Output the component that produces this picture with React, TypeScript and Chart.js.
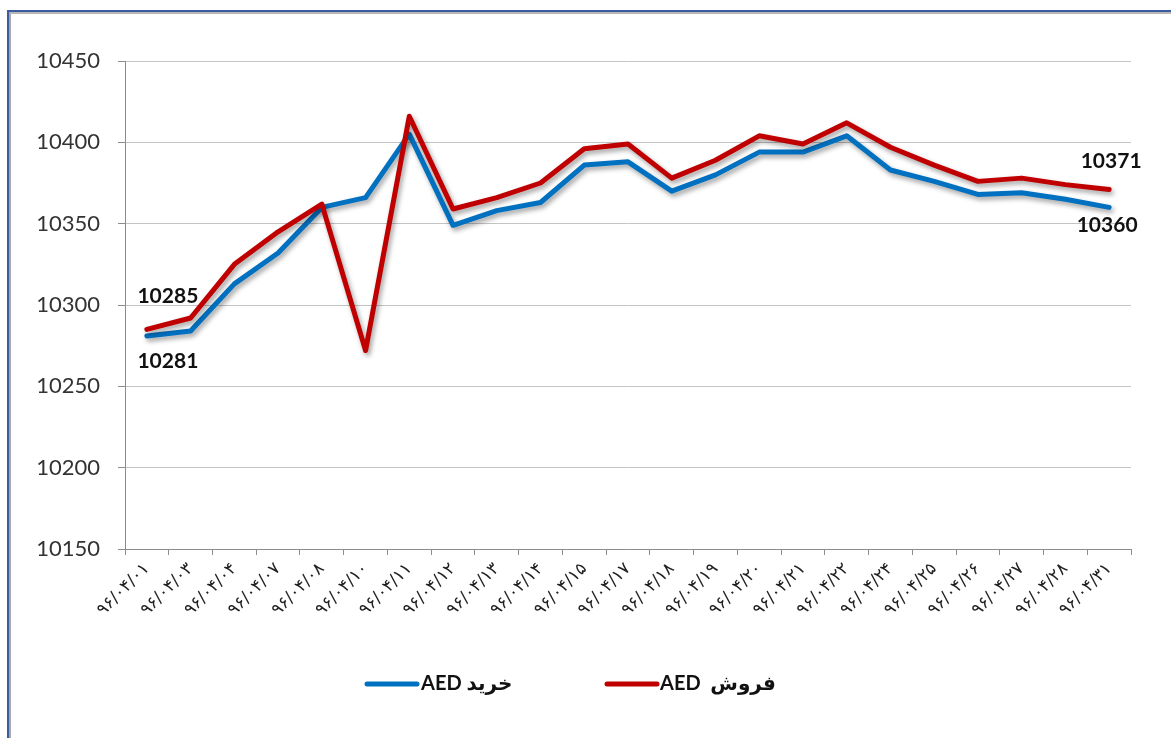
import React, { useEffect, useRef } from "react";
import { Chart, registerables } from "chart.js";

Chart.register(...registerables);

const categories = [
  "۹۶/۰۴/۰۱", "۹۶/۰۴/۰۳", "۹۶/۰۴/۰۴", "۹۶/۰۴/۰۷", "۹۶/۰۴/۰۸", "۹۶/۰۴/۱۰",
  "۹۶/۰۴/۱۱", "۹۶/۰۴/۱۲", "۹۶/۰۴/۱۳", "۹۶/۰۴/۱۴", "۹۶/۰۴/۱۵", "۹۶/۰۴/۱۷",
  "۹۶/۰۴/۱۸", "۹۶/۰۴/۱۹", "۹۶/۰۴/۲۰", "۹۶/۰۴/۲۱", "۹۶/۰۴/۲۲", "۹۶/۰۴/۲۴",
  "۹۶/۰۴/۲۵", "۹۶/۰۴/۲۶", "۹۶/۰۴/۲۷", "۹۶/۰۴/۲۸", "۹۶/۰۴/۳۱",
];

const buyValues = [
  10281, 10284, 10313, 10332, 10360, 10366, 10405, 10349, 10358, 10363, 10386, 10388,
  10370, 10380, 10394, 10394, 10404, 10383, 10376, 10368, 10369, 10365, 10360,
];

const sellValues = [
  10285, 10292, 10325, 10345, 10362, 10272, 10416, 10359, 10366, 10375, 10396, 10399,
  10378, 10389, 10404, 10399, 10412, 10397, 10386, 10376, 10378, 10374, 10371,
];

const yMin = 10150;
const yMax = 10450;
const yStep = 50;

const buyLabel = "AED خرید";
const sellLabel = "AED  فروش";

const BLUE = "#0070C0";
const RED = "#C00000";

const shadowPlugin = {
  id: "lineShadow",
  beforeDatasetDraw(chart: any) {
    const ctx = chart.ctx;
    ctx.save();
    ctx.shadowColor = "rgba(0,0,0,0.38)";
    ctx.shadowBlur = 5;
    ctx.shadowOffsetX = 2;
    ctx.shadowOffsetY = 3;
  },
  afterDatasetDraw(chart: any) {
    chart.ctx.restore();
  },
};

const labelsPlugin = {
  id: "endLabels",
  afterDraw(chart: any) {
    const ctx = chart.ctx;
    const blue = chart.getDatasetMeta(0).data;
    const red = chart.getDatasetMeta(1).data;
    const last = blue.length - 1;
    ctx.save();
    ctx.font = "bold 21px Lato, 'DejaVu Sans', sans-serif";
    ctx.fillStyle = "#111";
    ctx.textAlign = "center";
    ctx.textBaseline = "middle";
    ctx.fillText(String(sellValues[0]), red[0].x + 21, red[0].y - 33);
    ctx.fillText(String(buyValues[0]), blue[0].x + 21, blue[0].y + 25);
    ctx.fillText(String(sellValues[last]), red[last].x + 2, red[last].y - 28);
    ctx.fillText(String(buyValues[last]), blue[last].x - 2, blue[last].y + 18);

    // legend
    const ly = 684;
    ctx.lineCap = "round";
    ctx.lineWidth = 5;
    ctx.strokeStyle = BLUE;
    ctx.beginPath();
    ctx.moveTo(367, ly);
    ctx.lineTo(417, ly);
    ctx.stroke();
    ctx.strokeStyle = RED;
    ctx.beginPath();
    ctx.moveTo(607, ly);
    ctx.lineTo(657, ly);
    ctx.stroke();
    ctx.textAlign = "left";
    ctx.font = "bold 20px Lato, 'DejaVu Sans', sans-serif";
    ctx.fillText(buyLabel, 421, ly);
    ctx.fillText(sellLabel, 660, ly);
    ctx.restore();
  },
};

export default function App() {
  const ref = useRef<HTMLCanvasElement | null>(null);

  useEffect(() => {
    document.body.style.margin = "0";
    const canvas = ref.current;
    if (!canvas) return;
    const chart = new Chart(canvas, {
      type: "line",
      data: {
        labels: categories,
        datasets: [
          {
            label: buyLabel,
            data: buyValues,
            borderColor: BLUE,
            backgroundColor: BLUE,
            borderWidth: 5,
            pointRadius: 0,
            tension: 0,
            borderJoinStyle: "round",
            borderCapStyle: "round",
            order: 1,
          },
          {
            label: sellLabel,
            data: sellValues,
            borderColor: RED,
            backgroundColor: RED,
            borderWidth: 5,
            pointRadius: 0,
            tension: 0,
            borderJoinStyle: "round",
            borderCapStyle: "round",
            order: 0,
          },
        ],
      },
      options: {
        responsive: false,
        animation: false,
        devicePixelRatio: 1,
        layout: { padding: { left: 0, top: 61, right: 40, bottom: 89 } },
        plugins: {
          legend: { display: false },
          tooltip: { enabled: false },
          title: { display: false },
        },
        scales: {
          x: {
            offset: true,
            grid: {
              display: true,
              drawOnChartArea: false,
              offset: true,
              tickLength: 6,
              tickColor: "#8c8c8c",
            },
            border: { display: true, color: "#8c8c8c", width: 1 },
            ticks: {
              autoSkip: false,
              minRotation: 45,
              maxRotation: 45,
              padding: 4,
              color: "#222",
              font: { family: "'DejaVu Sans', sans-serif", size: 17 },
            },
            afterFit(scale: any) {
              scale.height = 100;
            },
          },
          y: {
            min: yMin,
            max: yMax,
            grid: {
              color: "#c4c4c4",
              tickColor: "#8c8c8c",
              tickLength: 7,
            },
            border: { display: true, color: "#8c8c8c", width: 1 },
            ticks: {
              stepSize: yStep,
              padding: 18,
              color: "#333",
              font: { family: "Lato, 'Open Sans', sans-serif", size: 22 },
              callback: (v: any) => String(v),
            },
            afterFit(scale: any) {
              scale.width = 125;
            },
          },
        },
      },
      plugins: [shadowPlugin, labelsPlugin],
    } as any);
    return () => chart.destroy();
  }, []);

  return (
    <div
      style={{
        position: "fixed",
        left: 0,
        top: 0,
        width: 1171,
        height: 738,
        background: "#fff",
        overflow: "hidden",
      }}
    >
      <div
        style={{
          position: "absolute",
          left: 7,
          top: 10,
          width: 1200,
          height: 800,
          borderTop: "2px solid #3A5BA0",
          borderLeft: "2px solid #3A5BA0",
        }}
      >
        <div
          style={{
            position: "absolute",
            left: 0,
            top: 0,
            right: 0,
            bottom: 0,
            borderTop: "2px solid #B8B8B8",
            borderLeft: "2px solid #A8A8A8",
          }}
        />
      </div>
      <canvas
        ref={ref}
        width={1171}
        height={738}
        style={{ position: "absolute", left: 0, top: 0, width: 1171, height: 738 }}
      />
    </div>
  );
}
